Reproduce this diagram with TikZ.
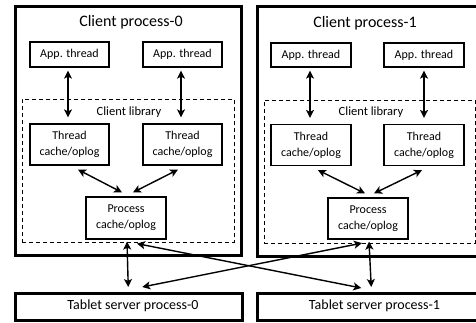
\documentclass[tikz,border=0pt]{standalone}
\usepackage{fontspec}
\setmainfont{Carlito}
\usetikzlibrary{arrows.meta}
\begin{document}
\begin{tikzpicture}[x=1pt,y=-1pt,
  outerbox/.style={draw,line width=2.5pt,inner sep=0pt},
  libbox/.style={draw,line width=0.9pt,dash pattern=on 4pt off 3pt,inner sep=0pt},
  smallbox/.style={draw,line width=1.2pt,align=center,inner sep=0pt,font=\fontsize{12}{16}\selectfont},
  biarrow/.style={line width=1.4pt,{Stealth[length=8pt,width=8pt,inset=2pt]}-{Stealth[length=8pt,width=8pt,inset=2pt]}},
  title/.style={font=\fontsize{16}{19}\selectfont},
  libtitle/.style={font=\fontsize{12.5}{15}\selectfont},
  tstitle/.style={font=\fontsize{14}{17}\selectfont}
]
\useasboundingbox (0,0) rectangle (476,322);
% outer boxes
\node[outerbox,minimum width=226pt,minimum height=249pt,anchor=north west] (cp0) at (14,5) {};
\node[outerbox,minimum width=224pt,minimum height=250pt,anchor=north west] (cp1) at (256,5) {};
\node[title] (t0) at (131,22) {Client process-0};
\node[title] (t1) at (365,23) {Client process-1};
% libraries
\node[libbox,minimum width=212pt,minimum height=143pt,anchor=north west] (lib0) at (22,99) {};
\node[libbox,minimum width=211pt,minimum height=143pt,anchor=north west] (lib1) at (264,100) {};
\node[libtitle] (lt0) at (129,112) {Client library};
\node[libtitle] (lt1) at (371,112) {Client library};
% app threads
\node[smallbox,minimum width=79pt,minimum height=25pt] (a00) at (69.5,54.5) {App. thread};
\node[smallbox,minimum width=79pt,minimum height=25pt] (a01) at (182.5,54.5) {App. thread};
\node[smallbox,minimum width=80pt,minimum height=24pt] (a10) at (311,55) {App. thread};
\node[smallbox,minimum width=80pt,minimum height=24pt] (a11) at (424,55) {App. thread};
% thread caches
\node[smallbox,minimum width=79pt,minimum height=41pt] (c00) at (69.5,144.5) {Thread\\cache/oplog};
\node[smallbox,minimum width=79pt,minimum height=41pt] (c01) at (182.5,144.5) {Thread\\cache/oplog};
\node[smallbox,minimum width=80pt,minimum height=41pt] (c10) at (311,145) {Thread\\cache/oplog};
\node[smallbox,minimum width=80pt,minimum height=41pt] (c11) at (424,145) {Thread\\cache/oplog};
% process caches
\node[smallbox,minimum width=80pt,minimum height=42pt] (p0) at (126,218) {Process\\cache/oplog};
\node[smallbox,minimum width=80pt,minimum height=41pt] (p1) at (368,218.5) {Process\\cache/oplog};
% tablet servers
\node[outerbox,minimum width=227pt,minimum height=27pt,anchor=north west] (ts0) at (14,292) {};
\node[outerbox,minimum width=226pt,minimum height=27pt,anchor=north west] (ts1) at (256,292) {};
\node[tstitle] (ts0l) at (133,305.5) {Tablet server process-0};
\node[tstitle] (ts1l) at (374.5,305.5) {Tablet server process-1};
% app <-> thread cache
\draw[biarrow] ([xshift=-1.5pt,yshift=-3pt]a00.south) -- ([xshift=-1.5pt,yshift=6pt]c00.north);
\draw[biarrow] ([xshift=-1.5pt,yshift=-3pt]a01.south) -- ([xshift=-1.5pt,yshift=6pt]c01.north);
\draw[biarrow] ([xshift=-1pt,yshift=-3pt]a10.south) -- ([xshift=-1pt,yshift=6pt]c10.north);
\draw[biarrow] ([xshift=0pt,yshift=-3pt]a11.south) -- ([xshift=0pt,yshift=6pt]c11.north);
% thread cache <-> process cache
\draw[biarrow] ([xshift=8.5pt,yshift=-4pt]c00.south) -- ([xshift=-4pt,yshift=4pt]p0.north);
\draw[biarrow] ([xshift=-4.5pt,yshift=-4pt]c01.south) -- ([xshift=7pt,yshift=4pt]p0.north);
\draw[biarrow] ([xshift=7pt,yshift=-4pt]c10.south) -- ([xshift=-3pt,yshift=4pt]p1.north);
\draw[biarrow] ([xshift=-2pt,yshift=-4pt]c11.south) -- ([xshift=6pt,yshift=4pt]p1.north);
% process cache <-> tablet servers
\draw[biarrow] ([xshift=1pt,yshift=-2pt]p0.south) -- ([xshift=-0.5pt,yshift=5pt]ts0.north);
\draw[biarrow] ([xshift=1pt,yshift=-2pt]p1.south) -- ([xshift=1pt,yshift=5pt]ts1.north);
\draw[biarrow] ([xshift=11pt,yshift=-4pt]p0.south) -- ([xshift=-9pt,yshift=4pt]ts1.north);
\draw[biarrow] ([xshift=-6pt,yshift=-3.5pt]p1.south) -- ([xshift=13.5pt,yshift=5pt]ts0.north);
\end{tikzpicture}
\end{document}
